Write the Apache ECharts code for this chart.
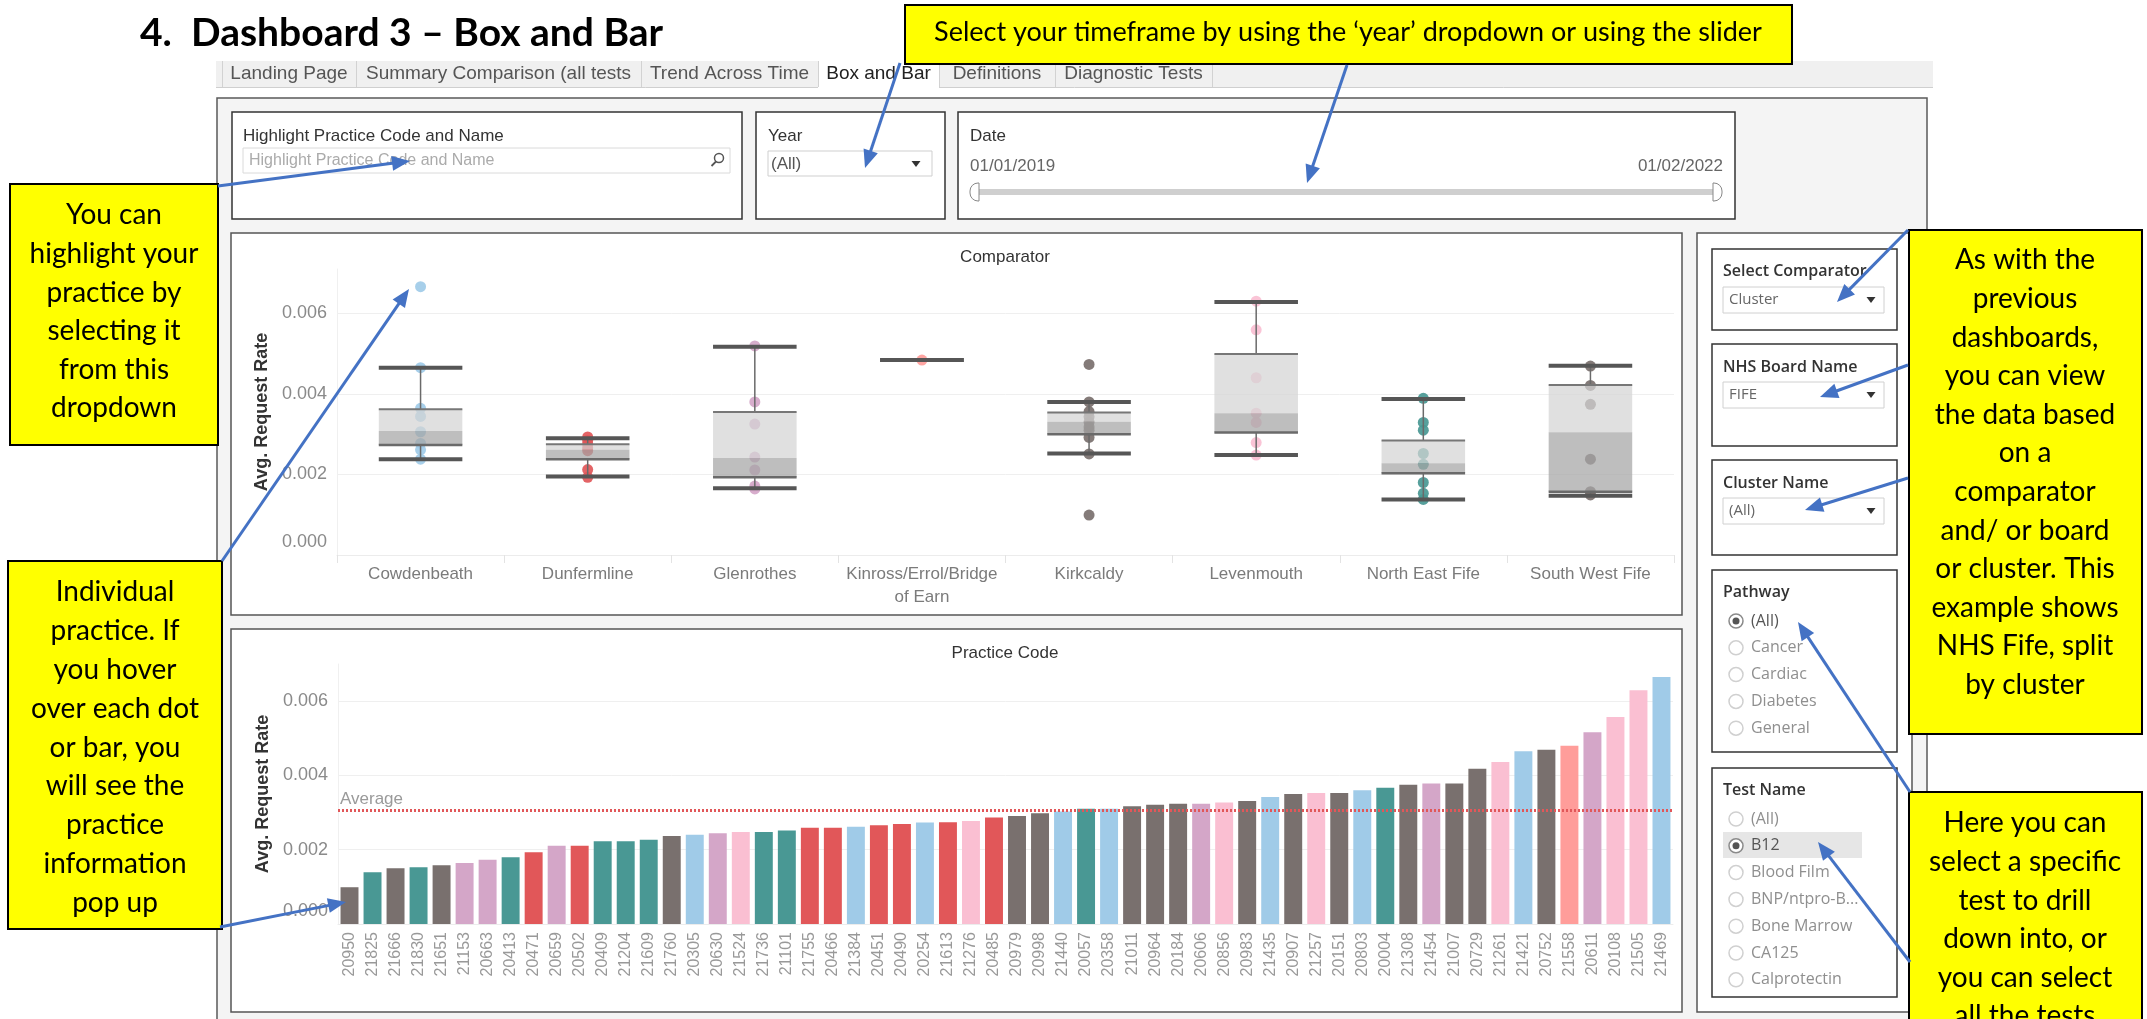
<!DOCTYPE html>
<html>
<head>
<meta charset="utf-8">
<title>Dashboard 3 – Box and Bar</title>
<script src="https://cdn.jsdelivr.net/npm/echarts@6/dist/echarts.min.js"></script>
<style>
  html, body { margin: 0; padding: 0; background: #ffffff; }
  #main { width: 2147px; height: 1019px; }
</style>
</head>
<body>
<div id="main"></div>
<script>
// ---------- data ----------
const comparators = ['Cowdenbeath', 'Dunfermline', 'Glenrothes', 'Kinross/Errol/Bridge of Earn',
  'Kirkcaldy', 'Levenmouth', 'North East Fife', 'South West Fife'];
const comparatorColors = ['#A0CBE8', '#E15759', '#D4A6C8', '#FF9D9A', '#79706E', '#FABFD2', '#499894', '#79706E'];

// box plot per comparator: [lower whisker, Q1, median, Q3, upper whisker]
const boxLower  = [0.00238, 0.00195, 0.00166, 0.00484, 0.00252, 0.00248, 0.00138, 0.00147];
const boxQ1     = [0.00273, 0.00238, 0.00193, 0.00484, 0.00300, 0.00304, 0.00203, 0.00157];
const boxMedian = [0.00308, 0.00261, 0.00241, 0.00484, 0.00331, 0.00352, 0.00228, 0.00305];
const boxQ3     = [0.00362, 0.00275, 0.00355, 0.00484, 0.00354, 0.00499, 0.00284, 0.00422];
const boxUpper  = [0.00465, 0.00290, 0.00517, 0.00484, 0.00380, 0.00628, 0.00387, 0.00470];

// practice rates plotted as dots, per comparator
const comparatorDots = [
  [0.00666, 0.00465, 0.00364, 0.00344, 0.00306, 0.00277, 0.00261, 0.00238],
  [0.00293, 0.00284, 0.00275, 0.00266, 0.00259, 0.00212, 0.00193],
  [0.00519, 0.00380, 0.00325, 0.00243, 0.00211, 0.00171, 0.00164],
  [0.00484],
  [0.00473, 0.00380, 0.00356, 0.00343, 0.00330, 0.00318, 0.00310, 0.00292, 0.00251, 0.00099],
  [0.00630, 0.00559, 0.00440, 0.00352, 0.00329, 0.00279, 0.00248],
  [0.00389, 0.00329, 0.00310, 0.00252, 0.00225, 0.00180, 0.00153, 0.00138],
  [0.00469, 0.00421, 0.00374, 0.00238, 0.00157, 0.00149]
];

// bar chart: practice codes, average request rate, comparator index
const practiceCodes = ['20950','21825','21666','21830','21651','21153','20663','20413','20471','20659',
  '20502','20409','21204','21609','21760','20305','20630','21524','21736','21101',
  '21755','20466','21384','20451','20490','20254','21613','21276','20485','20979',
  '20998','21440','20057','20358','21011','20964','20184','20606','20856','20983',
  '21435','20907','21257','20151','20803','20004','21308','21454','21007','20729',
  '21261','21421','20752','21558','20611','20108','21505','21469'];
const practiceRates = [0.00099,0.00139,0.00150,0.00153,0.00158,0.00164,0.00173,0.00180,0.00193,0.00211,
  0.00211,0.00223,0.00223,0.00227,0.00237,0.00240,0.00244,0.00248,0.00248,0.00252,
  0.00259,0.00259,0.00262,0.00266,0.00269,0.00273,0.00274,0.00277,0.00287,0.00291,
  0.00298,0.00303,0.00310,0.00310,0.00317,0.00321,0.00324,0.00324,0.00327,0.00331,
  0.00342,0.00350,0.00353,0.00353,0.00360,0.00367,0.00375,0.00378,0.00378,0.00418,
  0.00436,0.00465,0.00469,0.00480,0.00516,0.00557,0.00629,0.00665];
const practiceComparator = [4,6,7,6,7,2,2,6,1,2,
  1,6,6,6,7,0,2,5,6,6,
  1,1,0,1,1,0,1,5,1,4,
  4,0,6,0,4,4,4,2,5,4,
  0,4,5,4,0,6,7,2,4,7,
  5,0,7,3,2,5,5,0];
const averageRate = 0.00307;

const yTicks = { min: 0, interval: 0.002 };
const tabNames = ['Landing Page', 'Summary Comparison (all tests', 'Trend Across Time', 'Box and Bar', 'Definitions', 'Diagnostic Tests'];
const pathwayOptions = ['(All)', 'Cancer', 'Cardiac', 'Diabetes', 'General'];
const testOptions = ['(All)', 'B12', 'Blood Film', 'BNP/ntpro-B...', 'Bone Marrow', 'CA125', 'Calprotectin'];

// ---------- fonts ----------
const SANS = "'Liberation Sans', Arial, sans-serif";
const UI = "'Open Sans', sans-serif";
const CALLOUT = "Lato, 'Open Sans', sans-serif";

// ---------- dashboard furniture ----------
const G = [];
function rect(x, y, w, h, fill, stroke, lw, z, r) {
  G.push({ type: 'rect', silent: true, z: z || 0,
    shape: { x, y, width: w, height: h, r: r || 0 },
    style: { fill: fill || 'none', stroke: stroke || null, lineWidth: lw || 0 } });
}
function line(x1, y1, x2, y2, stroke, lw, z) {
  G.push({ type: 'line', silent: true, z: z || 0, shape: { x1, y1, x2, y2 }, style: { stroke, lineWidth: lw } });
}
function txt(x, y, s, font, fill, align, z, extra) {
  G.push({ type: 'text', silent: true, x, y, z: z || 1,
    style: Object.assign({ text: s, font, fill, textAlign: align || 'left',
      textVerticalAlign: 'middle', verticalAlign: 'middle' }, extra || {}) });
}
function tri(cx, cy, z) {
  G.push({ type: 'polygon', silent: true, z: z || 1,
    shape: { points: [[cx - 4.5, cy - 3], [cx + 4.5, cy - 3], [cx, cy + 3]] }, style: { fill: '#333' } });
}
function arrow(x1, y1, x2, y2) {
  const dx = x2 - x1, dy = y2 - y1, L = Math.hypot(dx, dy), ux = dx / L, uy = dy / L;
  const hl = 18, hw = 7.5, bx = x2 - ux * hl, by = y2 - uy * hl;
  line(x1, y1, bx + ux * 2, by + uy * 2, '#4472C4', 3, 101);
  G.push({ type: 'polygon', silent: true, z: 101,
    shape: { points: [[x2, y2], [bx - uy * hw, by + ux * hw], [bx + uy * hw, by - ux * hw]] },
    style: { fill: '#4472C4' } });
}
function radio(cx, cy, label, selected) {
  G.push({ type: 'circle', silent: true, z: 1, shape: { cx, cy, r: 7 },
    style: { fill: '#fff', stroke: selected ? '#8a8a8a' : '#d0d0d0', lineWidth: 1.5 } });
  if (selected) G.push({ type: 'circle', silent: true, z: 2, shape: { cx, cy, r: 3.5 }, style: { fill: '#555' } });
  txt(cx + 15, cy, label, '16px ' + UI, selected ? '#555' : '#8f8f8f');
}

// page title
txt(140, 33, '4.', 'bold 39px ' + CALLOUT, '#000');
txt(191, 33, 'Dashboard 3 – Box and Bar', 'bold 39px ' + CALLOUT, '#000');

// tab strip
rect(216, 61, 1717, 26, '#f0f0f0');
line(216, 87.5, 1933, 87.5, '#cfcfcf', 1);
const tabEdges = [222, 356, 641, 818, 939, 1055, 1212];
rect(818, 61, 121, 27.5, '#ffffff', null, 0, 0);
tabEdges.forEach(x => line(x + 0.5, 61, x + 0.5, 87, '#d2d2d2', 1, 1));
tabNames.forEach((t, i) => {
  txt((tabEdges[i] + tabEdges[i + 1]) / 2, 74, t, '19px ' + SANS, i === 3 ? '#222' : '#555', 'center');
});

// dashboard container
rect(217, 98, 1710, 940, '#f4f4f4', '#5a5a5a', 1.5, -1);

// top filter cards
rect(232, 112, 510, 107, '#fff', '#333', 1.5);
txt(243, 136, 'Highlight Practice Code and Name', '17px ' + SANS, '#333');
rect(243, 148, 487, 25, '#fff', '#dadada', 1);
txt(249, 161, 'Highlight Practice Code and Name', '16px ' + SANS, '#ababab');
G.push({ type: 'circle', silent: true, z: 1, shape: { cx: 719, cy: 158, r: 4.5 }, style: { fill: 'none', stroke: '#555', lineWidth: 1.5 } });
line(716, 161.5, 711.5, 166, '#555', 1.8, 1);

rect(756, 112, 189, 107, '#fff', '#333', 1.5);
txt(768, 136, 'Year', '17px ' + SANS, '#333');
rect(768, 151, 164, 25, '#fff', '#cfcfcf', 1);
txt(771, 164, '(All)', '17px ' + SANS, '#555');
tri(916, 164);

rect(958, 112, 777, 107, '#fff', '#333', 1.5);
txt(970, 136, 'Date', '17px ' + SANS, '#333');
txt(970, 166, '01/01/2019', '17px ' + SANS, '#666');
txt(1723, 166, '01/02/2022', '17px ' + SANS, '#666', 'right');
rect(975, 189, 745, 6, '#cfcfcf');
rect(970, 183, 9, 18, '#fff', '#888', 1, 2, [8, 0, 0, 8]);
rect(1713, 183, 9, 18, '#fff', '#888', 1, 2, [0, 8, 8, 0]);

// chart cards
rect(231, 233, 1451, 382, '#fff', '#555', 1.5);
rect(231, 629, 1451, 383, '#fff', '#555', 1.5);
txt(1005, 257, 'Comparator', '17px ' + SANS, '#333', 'center');
txt(1005, 653, 'Practice Code', '17px ' + SANS, '#333', 'center');

// right-hand filter column
rect(1697, 233, 215, 779, '#fff', '#555', 1.5);
const cards = [[249, 81], [344, 102], [460, 95], [570, 182], [768, 229]];
cards.forEach(c => rect(1712, c[0], 185, c[1], '#fff', '#333', 1.5));
txt(1723, 271, 'Select Comparator', '600 16px ' + UI, '#333');
txt(1723, 367, 'NHS Board Name', '600 16px ' + UI, '#333');
txt(1723, 483, 'Cluster Name', '600 16px ' + UI, '#333');
txt(1723, 592, 'Pathway', '600 16px ' + UI, '#333');
txt(1723, 790, 'Test Name', '600 16px ' + UI, '#333');
[[287, 'Cluster'], [382, 'FIFE'], [498, '(All)']].forEach(d => {
  rect(1723, d[0], 161, 26, '#fff', '#d0d0d0', 1);
  txt(1729, d[0] + 13, d[1], '15px ' + UI, '#666');
  tri(1871, d[0] + 13);
});
pathwayOptions.forEach((p, i) => radio(1736, 621 + i * 26.8, p, i === 0));
rect(1723, 832, 139, 26, '#e6e6e6');
testOptions.forEach((t, i) => radio(1736, 819 + i * 26.8, t, i === 1));

// yellow callouts
const YEL = '#FFFF00';
const block = { verticalAlign: 'top', textVerticalAlign: 'top', lineHeight: 38.6 };
rect(905, 5, 887, 59, YEL, '#000', 2, 100);
txt(1348, 32, 'Select your timeframe by using the \u2018year\u2019 dropdown or using the slider', '27px ' + CALLOUT, '#000', 'center', 100);
rect(10, 184, 208, 261, YEL, '#000', 2, 100);
txt(114, 196, 'You can\nhighlight your\npractice by\nselecting it\nfrom this\ndropdown', '28px ' + CALLOUT, '#000', 'center', 100, block);
rect(8, 561, 214, 368, YEL, '#000', 2, 100);
txt(115, 573, 'Individual\npractice. If\nyou hover\nover each dot\nor bar, you\nwill see the\npractice\ninformation\npop up', '28px ' + CALLOUT, '#000', 'center', 100,
  Object.assign({}, block, { lineHeight: 38.8 }));
rect(1909, 230, 233, 504, YEL, '#000', 2, 100);
txt(2025, 241, 'As with the\nprevious\ndashboards,\nyou can view\nthe data based\non a\ncomparator\nand/ or board\nor cluster. This\nexample shows\nNHS Fife, split\nby cluster', '28px ' + CALLOUT, '#000', 'center', 100, block);
rect(1909, 792, 233, 260, YEL, '#000', 2, 100);
txt(2025, 804, 'Here you can\nselect a specific\ntest to drill\ndown into, or\nyou can select\nall the tests', '28px ' + CALLOUT, '#000', 'center', 100, block);

// pointer arrows
arrow(900, 63, 865, 168);
arrow(1347, 65, 1307, 183);
arrow(218, 186, 410, 161);
arrow(222, 561, 409, 289);
arrow(220, 927, 346, 902);
arrow(1908, 230, 1837, 302);
arrow(1908, 365, 1820, 397);
arrow(1908, 478, 1805, 510);
arrow(1910, 792, 1798, 622);
arrow(1910, 962, 1818, 842);

// ---------- chart series ----------
const dotData = [];
comparatorDots.forEach((vals, i) => vals.forEach(v =>
  dotData.push({ value: [i, v], itemStyle: { color: comparatorColors[i] } })));
const boxData = comparators.map((c, i) => [i, boxLower[i], boxQ1[i], boxMedian[i], boxQ3[i], boxUpper[i]]);
const barData = practiceRates.map((v, i) => ({ value: v, itemStyle: { color: comparatorColors[practiceComparator[i]] } }));

function renderBox(params, api) {
  const i = api.value(0);
  const lo = api.coord([i, api.value(1)]), q1 = api.coord([i, api.value(2)]),
        md = api.coord([i, api.value(3)]), q3 = api.coord([i, api.value(4)]),
        hi = api.coord([i, api.value(5)]);
  const w = api.size([1, 0])[0] * 0.5, x0 = lo[0] - w / 2, x1 = lo[0] + w / 2, cx = lo[0];
  const children = [];
  if (q3[1] < md[1]) children.push({ type: 'rect', shape: { x: x0, y: q3[1], width: w, height: md[1] - q3[1] }, style: { fill: 'rgba(212,212,212,0.72)' } });
  if (md[1] < q1[1]) children.push({ type: 'rect', shape: { x: x0, y: md[1], width: w, height: q1[1] - md[1] }, style: { fill: 'rgba(165,165,165,0.72)' } });
  if (hi[1] < q3[1]) children.push({ type: 'line', shape: { x1: cx, y1: hi[1], x2: cx, y2: q3[1] }, style: { stroke: '#6a6a6a', lineWidth: 1.5 } });
  if (q1[1] < lo[1]) children.push({ type: 'line', shape: { x1: cx, y1: q1[1], x2: cx, y2: lo[1] }, style: { stroke: '#6a6a6a', lineWidth: 1.5 } });
  if (q1[1] !== q3[1]) {
    children.push({ type: 'line', shape: { x1: x0, y1: q3[1], x2: x1, y2: q3[1] }, style: { stroke: '#777', lineWidth: 2 } });
    children.push({ type: 'line', shape: { x1: x0, y1: q1[1], x2: x1, y2: q1[1] }, style: { stroke: '#6a6a6a', lineWidth: 2.5 } });
  }
  children.push({ type: 'line', shape: { x1: x0, y1: hi[1], x2: x1, y2: hi[1] }, style: { stroke: '#565656', lineWidth: 4 } });
  children.push({ type: 'line', shape: { x1: x0, y1: lo[1], x2: x1, y2: lo[1] }, style: { stroke: '#565656', lineWidth: 4 } });
  return { type: 'group', children };
}

const valueLabel = {
  color: '#8a8a8a', fontSize: 18, fontFamily: SANS, margin: 10, showMaxLabel: false,
  formatter: v => (v === 0 ? '{z|0.000}' : v.toFixed(3)),
  rich: { z: { color: '#8a8a8a', fontSize: 18, fontFamily: SANS, padding: [0, 0, 26, 0] } }
};
const valueAxisBase = {
  type: 'value', min: yTicks.min, interval: yTicks.interval,
  axisLabel: valueLabel,
  axisLine: { show: true, lineStyle: { color: '#f0f0f0' } },
  axisTick: { show: false },
  splitLine: { show: true, showMaxLine: false, lineStyle: { color: '#efefef', width: 1 } },
  name: 'Avg. Request Rate', nameLocation: 'middle', nameGap: 66, nameRotate: 90,
  nameTextStyle: { fontFamily: SANS, fontWeight: 'bold', fontSize: 18, color: '#333' }
};

const option = {
  animation: false,
  graphic: { elements: G },
  grid: [
    { left: 337, right: 473, top: 269, bottom: 464 },
    { left: 338, right: 474, top: 664, bottom: 95 }
  ],
  xAxis: [
    { type: 'category', gridIndex: 0, data: comparators, boundaryGap: true,
      axisLine: { show: true, lineStyle: { color: '#ececec' } },
      axisTick: { show: true, interval: 0, length: 8, lineStyle: { color: '#e3e3e3' } },
      axisLabel: { interval: 0, color: '#7b7b7b', fontSize: 17, fontFamily: SANS, margin: 8,
        lineHeight: 23, formatter: v => v.replace('Bridge of', 'Bridge\nof') } },
    { type: 'category', gridIndex: 1, data: practiceCodes,
      axisLine: { show: true, lineStyle: { color: '#ececec' } },
      axisTick: { show: false },
      axisLabel: { interval: 0, rotate: 90, color: '#999', fontSize: 16, fontFamily: SANS, margin: 8 } }
  ],
  yAxis: [
    Object.assign({}, valueAxisBase, { gridIndex: 0, max: 0.0071 }),
    Object.assign({}, valueAxisBase, { gridIndex: 1, max: 0.0070 })
  ],
  series: [
    { type: 'scatter', xAxisIndex: 0, yAxisIndex: 0, data: dotData, symbolSize: 11, z: 2,
      itemStyle: { opacity: 0.92 } },
    { type: 'custom', xAxisIndex: 0, yAxisIndex: 0, data: boxData, renderItem: renderBox, z: 3,
      encode: { x: 0, y: [1, 2, 3, 4, 5] } },
    { type: 'bar', xAxisIndex: 1, yAxisIndex: 1, data: barData, barCategoryGap: '22%', z: 2,
      markLine: { silent: true, symbol: 'none', precision: 6, data: [{ yAxis: averageRate }],
        lineStyle: { color: '#E15759', type: [2, 2], width: 3 },
        label: { show: true, position: 'insideStartTop', formatter: 'Average', color: '#9a9a9a',
          fontSize: 17, fontFamily: SANS, distance: [2, 2] } } }
  ]
};

const chart = echarts.init(document.getElementById('main'), null, { renderer: 'canvas', width: 2147, height: 1019 });
chart.setOption(option);
</script>
</body>
</html>
